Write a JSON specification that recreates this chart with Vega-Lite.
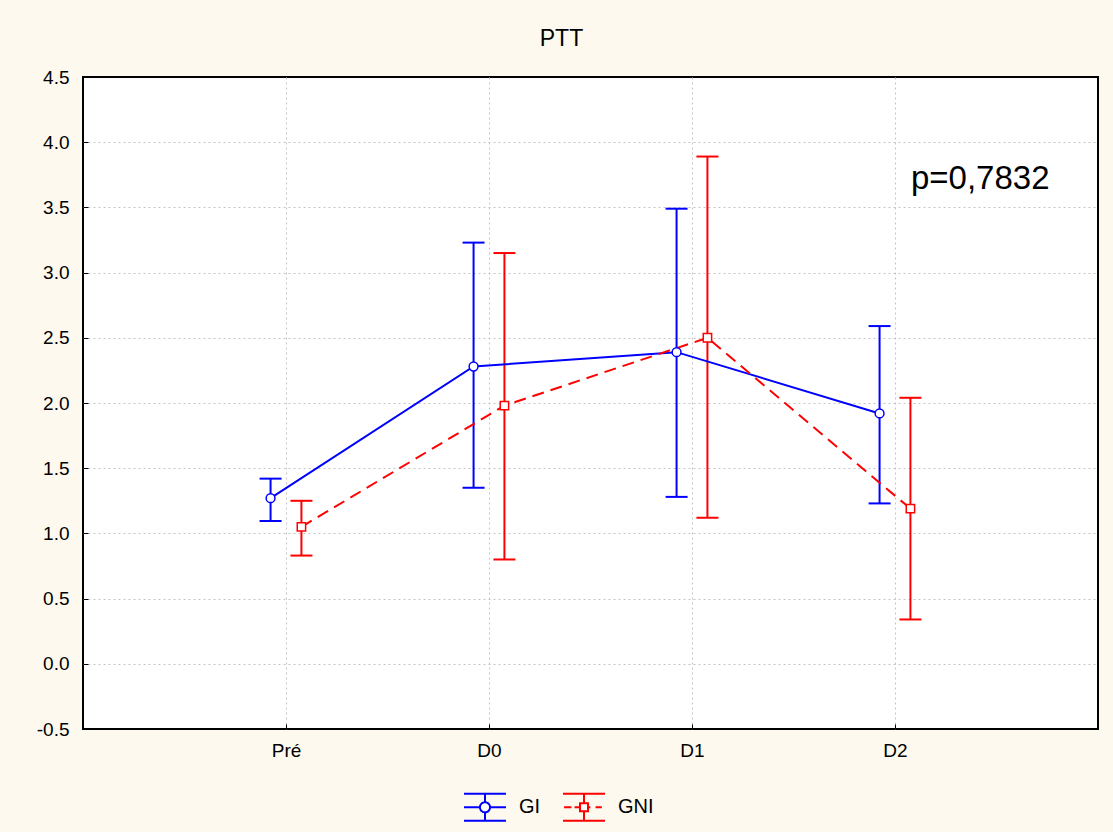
{
  "$schema": "https://vega.github.io/schema/vega-lite/v6.json",
  "width": 1015,
  "height": 652,
  "autosize": "none",
  "padding": {"left": 83, "top": 77, "right": 15, "bottom": 103},
  "background": "#fdf9ef",
  "title": {"text": "PTT", "fontSize": 23, "fontWeight": "normal", "font": "Liberation Sans", "color": "black", "offset": 17, "dx": -29},
  "config": {
    "view": {"stroke": "black", "strokeWidth": 2, "fill": "white"},
    "font": "Liberation Sans",
    "axis": {"labelFont": "Liberation Sans", "labelFontSize": 19, "labelColor": "black", "gridColor": "#c4c4c4", "gridDash": [2, 3], "gridWidth": 1, "domain": false, "tickColor": "black", "tickSize": -5, "tickWidth": 1, "title": null}
  },
  "layer": [
    {
      "data": {"values": [
        {"time": "Pré", "group": "GI", "mean": 1.27, "lo": 1.095, "hi": 1.42},
        {"time": "D0", "group": "GI", "mean": 2.28, "lo": 1.35, "hi": 3.23},
        {"time": "D1", "group": "GI", "mean": 2.39, "lo": 1.28, "hi": 3.49},
        {"time": "D2", "group": "GI", "mean": 1.92, "lo": 1.23, "hi": 2.59},
        {"time": "Pré", "group": "GNI", "mean": 1.05, "lo": 0.83, "hi": 1.25},
        {"time": "D0", "group": "GNI", "mean": 1.98, "lo": 0.80, "hi": 3.15},
        {"time": "D1", "group": "GNI", "mean": 2.50, "lo": 1.12, "hi": 3.89},
        {"time": "D2", "group": "GNI", "mean": 1.19, "lo": 0.34, "hi": 2.04}
      ]},
      "transform": [
        {"calculate": "indexof(['Pré','D0','D1','D2'], datum.time) + 1 + (datum.group === 'GI' ? -0.076 : 0.076)", "as": "xpos"}
      ],
      "encoding": {
        "x": {"field": "xpos", "type": "quantitative", "scale": {"domain": [0, 5], "nice": false, "zero": false},
              "axis": {"values": [1, 2, 3, 4], "labelExpr": "['Pré','D0','D1','D2'][datum.value-1]", "labelPadding": 17, "grid": true}},
        "color": {"field": "group", "type": "nominal", "scale": {"domain": ["GI", "GNI"], "range": ["#0000ff", "#ff0000"]},
          "legend": {
            "orient": "none", "legendX": 380, "legendY": 708, "direction": "horizontal", "title": null,
            "symbolSize": 1764, "symbolStrokeWidth": 2, "symbolFillColor": "white", "symbolOpacity": 1, "symbolDash": [1, 0], "labelFontSize": 20, "labelColor": "black", "labelFont": "Liberation Sans",
            "labelOffset": 12, "columnPadding": 18
          }}
      },
      "layer": [
        {"mark": {"type": "rule", "strokeWidth": 2}, "encoding": {"y": {"field": "lo", "type": "quantitative", "scale": {"domain": [-0.5, 4.5], "nice": false, "zero": false}, "axis": {"values": [-0.5, 0, 0.5, 1, 1.5, 2, 2.5, 3, 3.5, 4, 4.5], "labelExpr": "datum.value < 0 ? '-' + format(-datum.value, '.1f') : format(datum.value, '.1f')", "labelPadding": 19, "grid": true, "gridOpacity": {"condition": {"test": "datum.value == 4.5 || datum.value == -0.5", "value": 0}, "value": 1}}}, "y2": {"field": "hi"}}},
        {"mark": {"type": "rule", "strokeWidth": 2, "xOffset": -11, "x2Offset": 11}, "encoding": {"x2": {"field": "xpos"}, "y": {"field": "lo", "type": "quantitative"}}},
        {"mark": {"type": "rule", "strokeWidth": 2, "xOffset": -11, "x2Offset": 11}, "encoding": {"x2": {"field": "xpos"}, "y": {"field": "hi", "type": "quantitative"}}},
        {"transform": [{"filter": "datum.group === 'GI'"}], "mark": {"type": "line", "strokeWidth": 2}, "encoding": {"y": {"field": "mean", "type": "quantitative"}}},
        {"transform": [{"filter": "datum.group === 'GNI'"}], "mark": {"type": "line", "strokeWidth": 2, "strokeDash": [12, 7]}, "encoding": {"y": {"field": "mean", "type": "quantitative"}}},
        {"transform": [{"filter": "datum.group === 'GI'"}], "mark": {"type": "point", "shape": "circle", "filled": false, "fill": "white", "fillOpacity": 1, "strokeWidth": 1.5, "size": 78, "opacity": 1}, "encoding": {"y": {"field": "mean", "type": "quantitative"}}},
        {"transform": [{"filter": "datum.group === 'GNI'"}], "mark": {"type": "point", "shape": "square", "filled": false, "fill": "white", "fillOpacity": 1, "strokeWidth": 1.5, "size": 70, "opacity": 1}, "encoding": {"y": {"field": "mean", "type": "quantitative"}}},
        {"transform": [{"filter": "false"}], "mark": {"type": "point", "filled": false, "fill": "white", "strokeWidth": 2, "opacity": 1}, "encoding": {"y": {"field": "mean", "type": "quantitative"},
          "shape": {"field": "group", "type": "nominal", "scale": {"domain": ["GI", "GNI"], "range": [
            "M-1,-0.64H1M-1,0.64H1M0,-0.64V-0.24M0,0.24V0.64M-1,0H-0.24M0.24,0H1M0.24,0A0.24,0.24,0,1,1,-0.24,0A0.24,0.24,0,1,1,0.24,0",
            "M-1,-0.64H1M-1,0.64H1M0,-0.64V-0.19M0,0.19V0.64M-0.95,0H-0.6M-0.45,0H-0.19M0.19,0H0.3M0.55,0H0.85M-0.19,-0.19H0.19V0.19H-0.19Z"]},
            "legend": {"orient": "none", "legendX": 380, "legendY": 708, "direction": "horizontal", "title": null,
              "symbolSize": 1764, "symbolStrokeWidth": 2, "symbolFillColor": "white", "symbolOpacity": 1, "symbolDash": [1, 0], "labelFontSize": 20, "labelColor": "black", "labelFont": "Liberation Sans",
              "labelOffset": 12, "columnPadding": 18}}}}
      ]
    },
    {
      "data": {"values": [{}]},
      "mark": {"type": "text", "fontSize": 33, "font": "Liberation Sans", "color": "black", "align": "center", "baseline": "middle"},
      "encoding": {"x": {"datum": 4.42, "type": "quantitative"}, "y": {"datum": 3.72, "type": "quantitative"}, "text": {"value": "p=0,7832"}}
    }
  ]
}
